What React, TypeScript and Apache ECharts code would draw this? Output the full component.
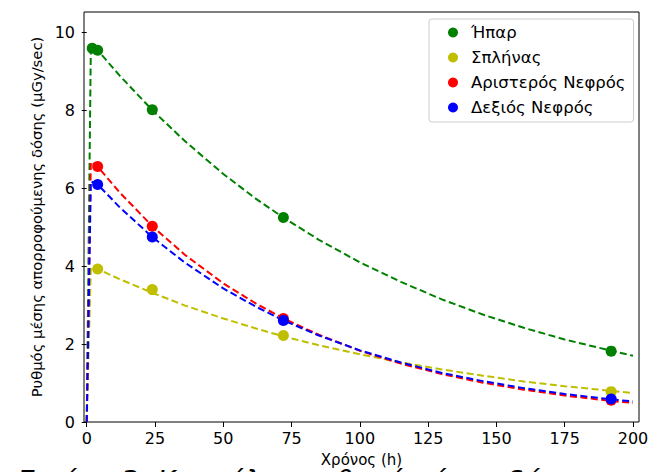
import React, { useEffect, useRef } from "react";
import * as echarts from "echarts";

const seriesNames = ["Ήπαρ", "Σπλήνας", "Αριστερός Νεφρός", "Δεξιός Νεφρός"];
const seriesColors = ["#008000", "#bfbf00", "#ff0000", "#0000ff"];

const xTicks = [0, 25, 50, 75, 100, 125, 150, 175, 200];
const yTicks = [0, 2, 4, 6, 8, 10];

const liverTimes = [2, 4, 24, 72, 192];
const measuredTimes = [4, 24, 72, 192];
const liverPoints = [9.6, 9.55, 8.02, 5.25, 1.82];
const spleenPoints = [3.93, 3.4, 2.22, 0.78];
const leftKidneyPoints = [6.56, 5.03, 2.66, 0.56];
const rightKidneyPoints = [6.1, 4.75, 2.61, 0.59];

const curveTimes = [0, 1.5, 4, 12, 24, 36, 50, 62, 72, 85, 100, 115, 130, 145, 160, 175, 192, 200];
const liverCurve = [0, 9.62, 9.55, 8.9, 8.01, 7.21, 6.37, 5.73, 5.25, 4.68, 4.1, 3.6, 3.15, 2.76, 2.42, 2.12, 1.83, 1.7];
const spleenCurve = [0, 3.96, 3.93, 3.67, 3.32, 2.99, 2.66, 2.4, 2.2, 1.97, 1.74, 1.53, 1.35, 1.19, 1.04, 0.92, 0.8, 0.74];
const leftKidneyCurve = [0, 6.68, 6.56, 5.9, 5.03, 4.29, 3.56, 3.04, 2.66, 2.24, 1.83, 1.5, 1.23, 1.01, 0.83, 0.68, 0.54, 0.49];
const rightKidneyCurve = [0, 6.18, 6.1, 5.52, 4.75, 4.09, 3.43, 2.96, 2.61, 2.22, 1.84, 1.53, 1.26, 1.05, 0.87, 0.72, 0.58, 0.53];

const xLabel = "Χρόνος (h)";
const yLabel = "Ρυθμός μέσης απορροφούμενης δόσης (μGy/sec)";
const caption = "Εικόνα 3: Καμπύλες ρυθμού μέσης δόσης";

const FONT = '"DejaVu Sans", sans-serif';

export default function App() {
  const ref = useRef<HTMLDivElement>(null);

  useEffect(() => {
    if (!ref.current) return;
    const chart = echarts.init(ref.current, null, { renderer: "svg" });

    const curves = [liverCurve, spleenCurve, leftKidneyCurve, rightKidneyCurve];
    const points = [
      liverTimes.map((t, i) => [t, liverPoints[i]]),
      measuredTimes.map((t, i) => [t, spleenPoints[i]]),
      measuredTimes.map((t, i) => [t, leftKidneyPoints[i]]),
      measuredTimes.map((t, i) => [t, rightKidneyPoints[i]]),
    ];

    const lineSeries = curves.map((c, i) => ({
      type: "line",
      name: seriesNames[i] + " fit",
      data: curveTimes.map((t, j) => [t, c[j]]),
      showSymbol: false,
      symbol: "none",
      lineStyle: { color: seriesColors[i], width: 2, type: [7, 3.5] },
      itemStyle: { color: seriesColors[i] },
      z: 2,
      silent: true,
    }));

    const scatterSeries = points.map((p, i) => ({
      type: "scatter",
      name: seriesNames[i],
      data: p,
      symbol: "circle",
      symbolSize: 11,
      itemStyle: { color: seriesColors[i], opacity: 1 },
      z: 3,
    }));

    chart.setOption({
      animation: false,
      backgroundColor: "#fff",
      textStyle: { fontFamily: FONT },
      grid: {
        show: true,
        left: 84,
        top: 12,
        width: 555,
        height: 412,
        borderColor: "#000",
        borderWidth: 1,
        backgroundColor: "transparent",
      },
      legend: {
        orient: "vertical",
        left: 429,
        top: 19,
        padding: [5, 8, 6, 19],
        itemGap: 8,
        itemWidth: 26,
        itemHeight: 10,
        icon: "circle",
        data: seriesNames,
        backgroundColor: "rgba(255,255,255,0.8)",
        borderColor: "#cccccc",
        borderWidth: 1,
        borderRadius: 3,
        textStyle: { fontFamily: FONT, fontSize: 16.5, color: "#000" },
      },
      xAxis: {
        type: "value",
        min: -1,
        max: 202.2,
        name: xLabel,
        nameLocation: "middle",
        nameGap: 30,
        nameTextStyle: { fontFamily: FONT, fontSize: 15, color: "#000" },
        axisLine: { show: false },
        axisTick: {
          show: true,
          customValues: xTicks,
          length: 5,
          lineStyle: { color: "#000", width: 1 },
        },
        axisLabel: {
          customValues: xTicks,
          margin: 8,
          fontFamily: FONT,
          fontSize: 16,
          color: "#000",
        },
        splitLine: { show: false },
      },
      yAxis: {
        type: "value",
        min: 0,
        max: 10.53,
        name: yLabel,
        nameLocation: "middle",
        nameGap: 40,
        nameTextStyle: { fontFamily: FONT, fontSize: 14.8, color: "#000" },
        axisLine: { show: false },
        axisTick: {
          show: true,
          customValues: yTicks,
          length: 5,
          lineStyle: { color: "#000", width: 1 },
        },
        axisLabel: {
          customValues: yTicks,
          margin: 9,
          fontFamily: FONT,
          fontSize: 16,
          color: "#000",
        },
        splitLine: { show: false },
      },
      graphic: [
        {
          type: "text",
          x: 17,
          y: 467,
          silent: true,
          style: {
            text: caption,
            font: 'italic 28px "DejaVu Sans", sans-serif',
            fill: "#000",
            verticalAlign: "top",
          },
        },
      ],
      series: [...lineSeries, ...scatterSeries],
    });

    return () => chart.dispose();
  }, []);

  return (
    <div
      ref={ref}
      style={{ position: "absolute", left: 0, top: 0, width: 657, height: 472 }}
    />
  );
}
